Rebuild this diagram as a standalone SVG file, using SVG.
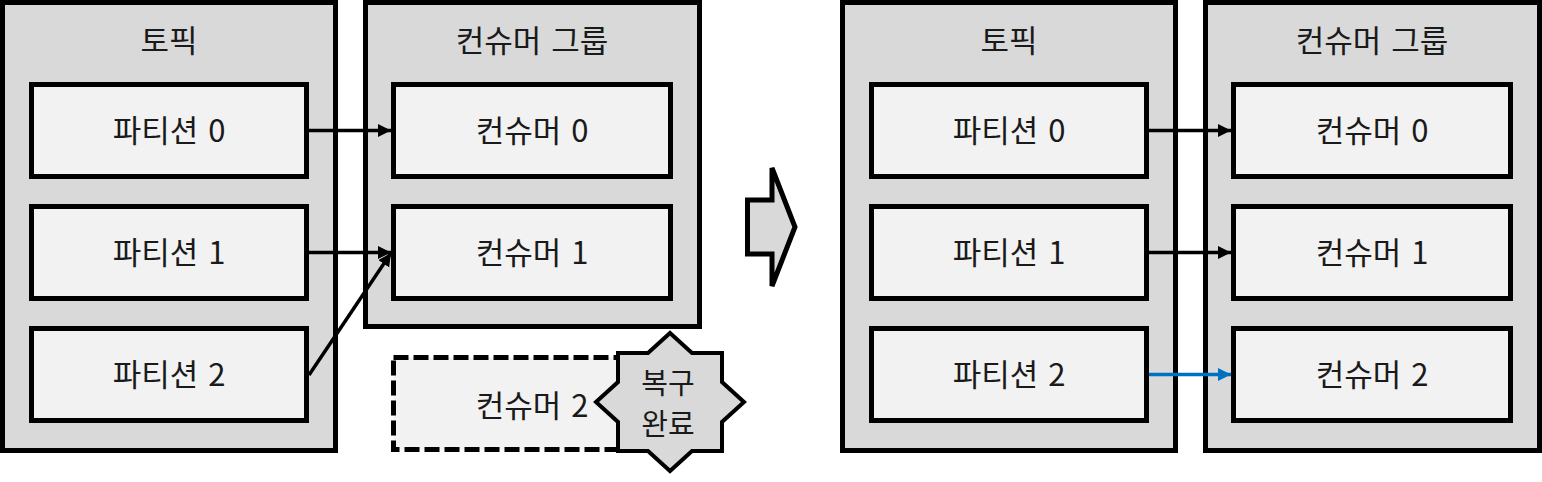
<svg xmlns="http://www.w3.org/2000/svg" width="1542" height="482" viewBox="0 0 1542 482">
<style>
.grp{fill:#d9d9d9;stroke:#000;stroke-width:5}
.box{fill:#f2f2f2;stroke:#000;stroke-width:5}
.dash{fill:#f2f2f2;stroke:#000;stroke-width:5;stroke-dasharray:15 5}
.star{fill:#d9d9d9;stroke:#000;stroke-width:4;stroke-linejoin:miter}
.t{font-family:"Noto Sans CJK KR","Noto Sans",sans-serif;font-size:31px;fill:#1a1a1a;text-anchor:middle;dominant-baseline:central;word-spacing:3px}
.s{font-size:29px}
.ln{stroke:#000;stroke-width:3.5;fill:none}
.lb{stroke:#0070c0;stroke-width:3.5;fill:none}
</style>
<defs>
<marker id="ah" markerUnits="userSpaceOnUse" markerWidth="14" markerHeight="14" refX="13" refY="6.5" orient="auto"><path d="M0,0 L13,6.5 L0,13 z" fill="#000"/></marker>
<marker id="ahb" markerUnits="userSpaceOnUse" markerWidth="14" markerHeight="14" refX="13" refY="6.5" orient="auto"><path d="M0,0 L13,6.5 L0,13 z" fill="#0070c0"/></marker>
</defs>

<g id="topic-left">
<rect class="grp" x="2.5" y="2.5" width="333" height="448"/>
<text class="t" x="169" y="38">토픽</text>
</g>
<g id="partition0-left"><rect class="box" x="31.5" y="84.5" width="275" height="92"/><text class="t" x="169" y="128">파티션 0</text></g>
<g id="partition1-left"><rect class="box" x="31.5" y="206.5" width="275" height="92"/><text class="t" x="169" y="250">파티션 1</text></g>
<g id="partition2-left"><rect class="box" x="31.5" y="328.5" width="275" height="92"/><text class="t" x="169" y="372">파티션 2</text></g>

<g id="group-left">
<rect class="grp" x="365.5" y="2.5" width="334" height="324"/>
<text class="t" x="532" y="38">컨슈머 그룹</text>
</g>
<g id="consumer0-left"><rect class="box" x="393.5" y="84.5" width="277" height="92"/><text class="t" x="532" y="128">컨슈머 0</text></g>
<g id="consumer1-left"><rect class="box" x="393.5" y="206.5" width="277" height="92"/><text class="t" x="532" y="250">컨슈머 1</text></g>
<g id="consumer2-left"><rect class="dash" x="393.5" y="357.5" width="277" height="92"/><text class="t" x="532" y="403">컨슈머 2</text></g>

<g id="recovered">
<polygon class="star" points="670,333 692,353 722,353 722,382 744,402 722,422 722,451 692,451 670,471 648,451 618,451 618,422 596,402 618,382 618,353 648,353"/>
<text class="t s" x="668" y="381">복구</text>
<text class="t s" x="668" y="422">완료</text>
</g>

<g id="transition">
<polygon fill="#d9d9d9" stroke="#000" stroke-width="5" points="747.5,200 772,200 772,168 795,227 772,286 772,254 747.5,254"/>
</g>

<g id="topic-right">
<rect class="grp" x="842.5" y="2.5" width="333" height="448"/>
<text class="t" x="1009" y="38">토픽</text>
</g>
<g id="partition0-right"><rect class="box" x="871.5" y="84.5" width="275" height="92"/><text class="t" x="1009" y="128">파티션 0</text></g>
<g id="partition1-right"><rect class="box" x="871.5" y="206.5" width="275" height="92"/><text class="t" x="1009" y="250">파티션 1</text></g>
<g id="partition2-right"><rect class="box" x="871.5" y="328.5" width="275" height="92"/><text class="t" x="1009" y="372">파티션 2</text></g>

<g id="group-right">
<rect class="grp" x="1205.5" y="2.5" width="334" height="448"/>
<text class="t" x="1372" y="38">컨슈머 그룹</text>
</g>
<g id="consumer0-right"><rect class="box" x="1233.5" y="84.5" width="277" height="92"/><text class="t" x="1372" y="128">컨슈머 0</text></g>
<g id="consumer1-right"><rect class="box" x="1233.5" y="206.5" width="277" height="92"/><text class="t" x="1372" y="250">컨슈머 1</text></g>
<g id="consumer2-right"><rect class="box" x="1233.5" y="328.5" width="277" height="92"/><text class="t" x="1372" y="372">컨슈머 2</text></g>

<g id="connectors">
<line class="ln" x1="309" y1="130.5" x2="391" y2="130.5" marker-end="url(#ah)"/>
<line class="ln" x1="309" y1="252.5" x2="391" y2="252.5" marker-end="url(#ah)"/>
<line class="ln" x1="309" y1="375" x2="391" y2="253" marker-end="url(#ah)"/>
<line class="ln" x1="1149" y1="130.5" x2="1231" y2="130.5" marker-end="url(#ah)"/>
<line class="ln" x1="1149" y1="252.5" x2="1231" y2="252.5" marker-end="url(#ah)"/>
<line class="lb" x1="1149" y1="374.5" x2="1231" y2="374.5" marker-end="url(#ahb)"/>
</g>
</svg>
